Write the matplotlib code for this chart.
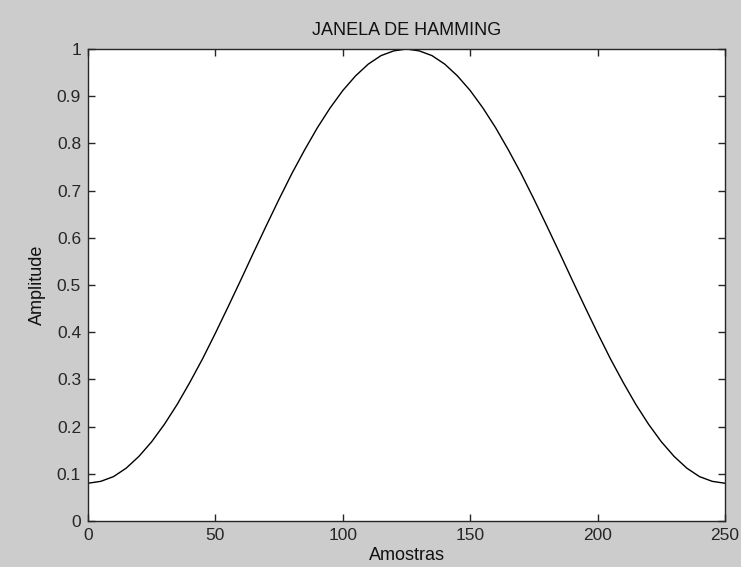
import matplotlib
matplotlib.use("Agg")
import matplotlib.pyplot as plt

amostras = list(range(0, 251, 5))
amplitude = [
    0.080, 0.084, 0.094, 0.112, 0.137, 0.168, 0.205, 0.247, 0.294, 0.344,
    0.398, 0.454, 0.511, 0.569, 0.626, 0.682, 0.736, 0.786, 0.833, 0.875,
    0.912, 0.943, 0.968, 0.986, 0.996, 1.000,
    0.996, 0.986, 0.968, 0.943, 0.912, 0.875, 0.833, 0.786, 0.736, 0.682,
    0.626, 0.569, 0.511, 0.454, 0.398, 0.344, 0.294, 0.247, 0.205, 0.168,
    0.137, 0.112, 0.094, 0.084, 0.080,
]
xticks = [0, 50, 100, 150, 200, 250]
yticks = [0, 0.1, 0.2, 0.3, 0.4, 0.5, 0.6, 0.7, 0.8, 0.9, 1]
ytick_labels = ["0", "0.1", "0.2", "0.3", "0.4", "0.5", "0.6", "0.7", "0.8", "0.9", "1"]

plt.rcParams['font.family'] = ['Liberation Sans', 'DejaVu Sans']
fig = plt.figure(figsize=(7.41, 5.67), dpi=100, facecolor='#cccccc')
ax = fig.add_axes([88/741, 46/567, 637/741, 472/567])
ax.set_facecolor('white')
ax.plot(amostras, amplitude, color='black', linewidth=1.0)
ax.set_xlim(0, 250)
ax.set_ylim(0, 1)
ax.set_xticks(xticks)
ax.set_xticklabels([str(t) for t in xticks])
ax.set_yticks(yticks)
ax.set_yticklabels(ytick_labels)
ax.tick_params(direction='in', top=True, right=True, length=5, width=1,
               labelsize=12.5, colors='#262626')
ax.tick_params(axis='x', pad=5)
ax.tick_params(axis='y', pad=5)
for s in ax.spines.values():
    s.set_color('#262626')
    s.set_linewidth(1.0)
ax.set_title('JANELA DE HAMMING', fontsize=13, color='#111111', pad=10)
ax.set_xlabel('Amostras', fontsize=13, color='#111111', labelpad=3)
ax.set_ylabel('Amplitude', fontsize=13, color='#111111', labelpad=8)
fig.savefig('out.png', dpi=100, facecolor=fig.get_facecolor())
